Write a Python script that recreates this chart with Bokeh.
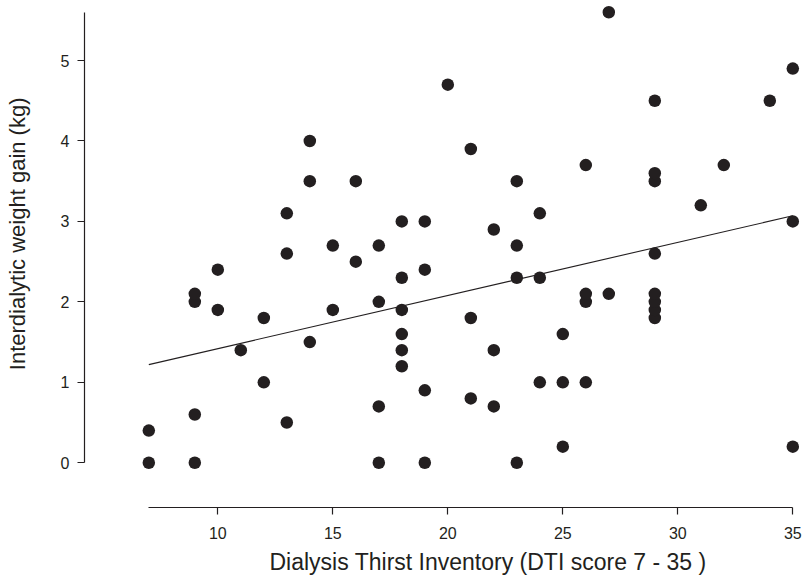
from bokeh.plotting import figure
from bokeh.models import Range1d, FixedTicker, Title
from bokeh.embed import file_html
from bokeh.resources import INLINE

# DTI score (x) and interdialytic weight gain in kg (y)
dti = [7, 7, 9, 9, 9, 9, 10, 10, 11, 12, 12, 13, 13, 13, 14, 14, 14, 15, 15,
       16, 16, 17, 17, 17, 17, 18, 18, 18, 18, 18, 18, 19, 19, 19, 19, 20,
       21, 21, 21, 22, 22, 22, 23, 23, 23, 23, 24, 24, 24, 25, 25, 25,
       26, 26, 26, 26, 27, 27, 29, 29, 29, 29, 29, 29, 29, 29, 31, 32, 34,
       35, 35, 35]
iwg = [0.0, 0.4, 0.0, 0.6, 2.0, 2.1, 1.9, 2.4, 1.4, 1.0, 1.8, 0.5, 2.6, 3.1,
       1.5, 3.5, 4.0, 1.9, 2.7, 2.5, 3.5, 0.0, 0.7, 2.0, 2.7, 1.2, 1.4, 1.6,
       1.9, 2.3, 3.0, 0.0, 0.9, 2.4, 3.0, 4.7, 0.8, 1.8, 3.9, 0.7, 1.4, 2.9,
       0.0, 2.3, 2.7, 3.5, 1.0, 2.3, 3.1, 0.2, 1.0, 1.6, 1.0, 2.0, 2.1, 3.7,
       2.1, 5.6, 1.8, 1.9, 2.0, 2.1, 2.6, 3.5, 3.6, 4.5, 3.2, 3.7, 4.5, 0.2,
       3.0, 4.9]

# regression line end points
fit_x = [7, 35]
fit_y = [1.22, 3.07]

x_ticks = [10, 15, 20, 25, 30, 35]
y_ticks = [0, 1, 2, 3, 4, 5]
x_bounds = (7, 35)
y_bounds = (0, 5.6)

x_title = "Dialysis Thirst Inventory (DTI score 7 - 35 )"
y_title = "Interdialytic weight gain (kg)"

INK = "#231f20"
FONT = "Liberation Sans"

p = figure(width=805, height=581, output_backend="svg", toolbar_location=None,
           x_range=Range1d(4.204, 35.552), y_range=Range1d(-0.556, 5.746),
           min_border_left=84, min_border_right=0, min_border_top=0,
           min_border_bottom=74)
p.outline_line_color = None
p.grid.visible = False
p.background_fill_color = "white"
p.border_fill_color = "white"

p.line(fit_x, fit_y, line_color=INK, line_width=1.1)
p.scatter(dti, iwg, size=12.5, fill_color=INK, line_color=INK, line_width=0)

for ax in (p.xaxis[0], p.yaxis[0]):
    ax.axis_line_color = INK
    ax.axis_line_width = 1.2
    ax.major_tick_line_color = INK
    ax.major_tick_line_width = 1.2
    ax.major_tick_out = 7
    ax.major_tick_in = 0
    ax.minor_tick_line_color = None
    ax.major_label_text_font = FONT
    ax.major_label_text_font_size = "16px"
    ax.major_label_text_color = INK

p.xaxis.ticker = FixedTicker(ticks=x_ticks)
p.yaxis.ticker = FixedTicker(ticks=y_ticks)
p.xaxis.bounds = x_bounds
p.yaxis.bounds = y_bounds
p.xaxis.major_label_standoff = 12
p.yaxis.major_label_standoff = 8

# axis titles as side titles, offset to sit where the reference has them
xt = Title(text=x_title, align="left", offset=185, standoff=10,
           text_font=FONT, text_font_size="23px", text_font_style="normal",
           text_color=INK)
# a trailing empty line keeps the y title out at the left edge, as in the reference
yt = Title(text=y_title + "\n", align="right", offset=97, standoff=5,
           text_font=FONT, text_font_size="22px", text_font_style="normal",
           text_color=INK)
p.add_layout(xt, "below")
p.add_layout(yt, "left")

open("out.html", "w").write(file_html(p, INLINE))
